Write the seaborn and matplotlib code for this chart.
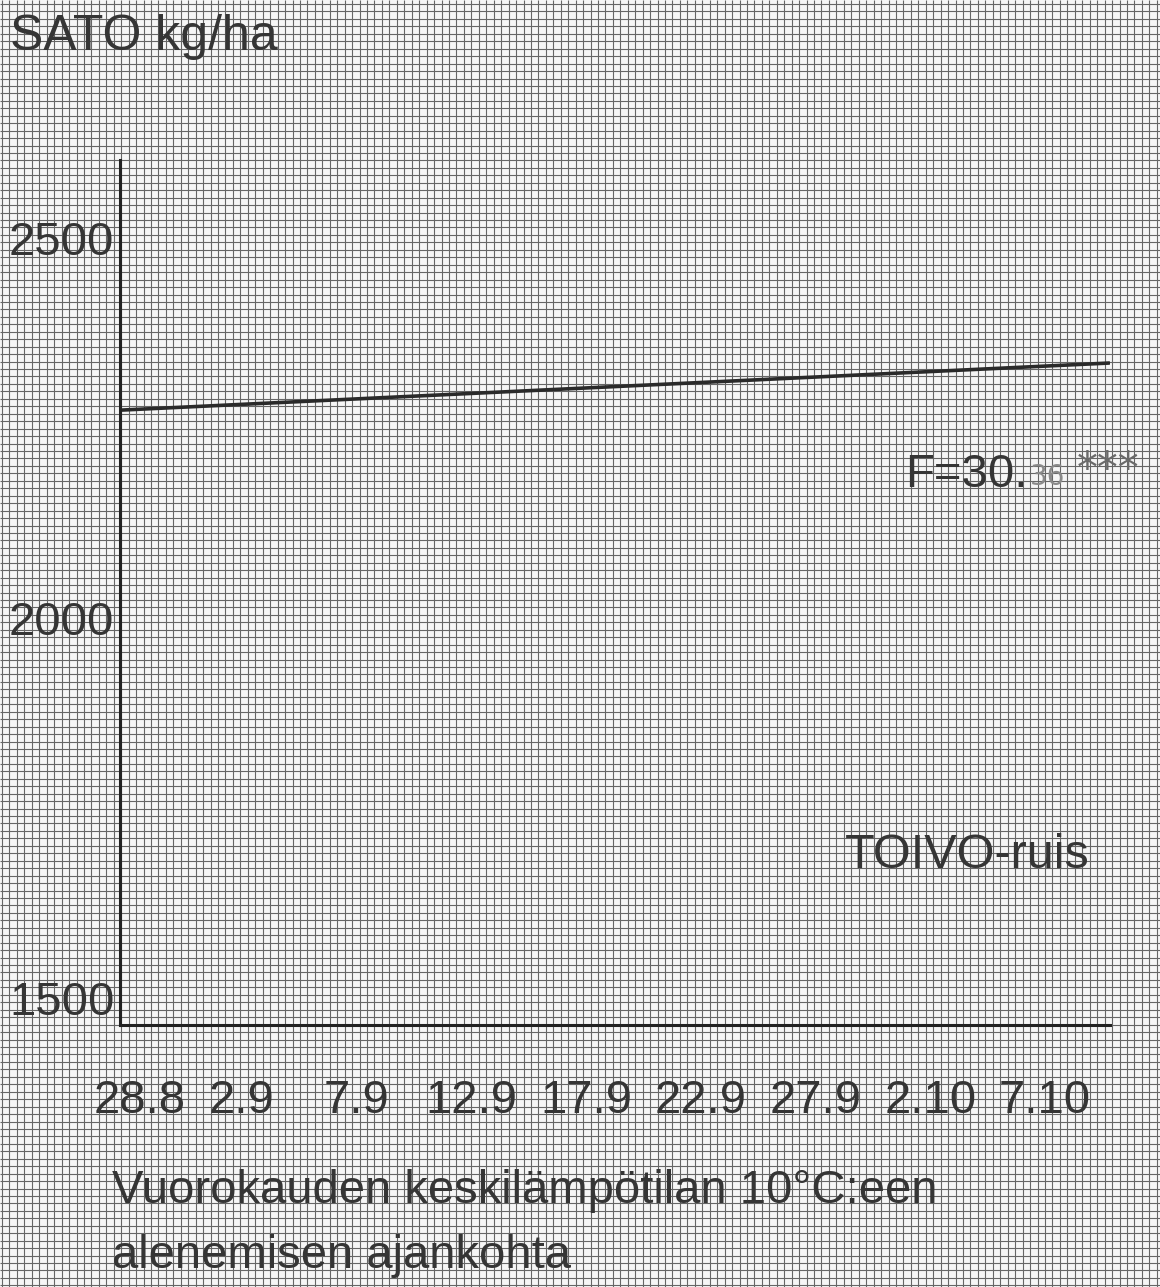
import numpy as np
import matplotlib
matplotlib.use('Agg')
import matplotlib.pyplot as plt
import matplotlib.transforms as mtransforms
import seaborn as sns

# Valeurs (jours depuis le 28.8)
paivat = [0, 43.1]
sato = [2309, 2371]

tick_paivat = [0, 5, 10, 15, 20, 25, 30, 35, 40]
tick_labels = ['28.8', '2.9', '7.9', '12.9', '17.9', '22.9', '27.9', '2.10', '7.10']
y_ticks = [1500, 2000, 2500]

W, H = 1160, 1287
TXT = '#353535'

sns.set_theme(style='white')
plt.rcParams['font.family'] = ['Liberation Sans', 'DejaVu Sans']

fig = plt.figure(figsize=(W / 100, H / 100), dpi=100)
fig.patch.set_facecolor('#f6f6f6')

# Fond : papier millimétré
bg = fig.add_axes([0, 0, 1, 1], zorder=0)
bg.set_xlim(0, W)
bg.set_ylim(H, 0)
bg.vlines(np.arange(2, W, 7.45), 0, H, color='#666666', lw=0.8)
bg.hlines(np.arange(4, H, 7.45), 0, W, color='#666666', lw=0.8)
bg.axis('off')

# Axe principal
x0, x1, y_top, y_axis = 120, 1110, 160, 1025
ax = fig.add_axes([x0 / W, (H - y_axis) / H, (x1 - x0) / W, (y_axis - y_top) / H], zorder=1)
ax.patch.set_alpha(0)

px_per_day = 114.75 / 5
px_per_kg = 380 / 500
ax.set_xlim(0, (x1 - x0) / px_per_day)
ax.set_ylim(1500, 1500 + (y_axis - y_top) / px_per_kg)

sns.lineplot(x=paivat, y=sato, ax=ax, color='#2a2a2a', lw=2.6)

for s in ['top', 'right']:
    ax.spines[s].set_visible(False)
for s in ['left', 'bottom']:
    ax.spines[s].set_color('#222222')
    ax.spines[s].set_linewidth(2.2)

ax.set_xticks(tick_paivat, tick_labels)
ax.set_yticks(y_ticks, [str(v) for v in y_ticks])
ax.tick_params(axis='x', direction='out', length=8, width=2, color='#222222',
               pad=31, labelsize=34, labelcolor=TXT)
ax.tick_params(axis='y', length=0, pad=4, labelsize=34, labelcolor=TXT)
for lab in ax.get_yticklabels():
    lab.set_verticalalignment('bottom')

# léger décalage des étiquettes de l'axe x vers la droite, comme sur l'original
for i, lab in enumerate(ax.get_xticklabels()):
    dx = 20 if i == 0 else 7
    lab.set_transform(lab.get_transform() +
                      mtransforms.ScaledTranslation(dx / 100, 0, fig.dpi_scale_trans))

# Textes
def fy(y):
    return 1 - y / H

fig.text(10 / W, fy(50), 'SATO kg/ha', fontsize=36, color=TXT, va='baseline')
fig.text(112 / W, fy(1203), 'Vuorokauden keskilämpötilan 10°C:een', fontsize=34,
         color=TXT, va='baseline')
fig.text(112 / W, fy(1268), 'alenemisen ajankohta', fontsize=34, color=TXT, va='baseline')

fig.text(905 / W, fy(487), 'F=30.', fontsize=34, color=TXT, va='baseline')
fig.text(1030 / W, fy(485), '36', fontsize=20, color='#8a8a8a', va='baseline',
         family=['DejaVu Sans'])
fig.text(1077 / W, fy(482), '***', fontsize=30, color='#6a6a6a', va='baseline',
         family=['DejaVu Sans'])

fig.text(845 / W, fy(868), 'TOIVO-ruis', fontsize=35, color=TXT, va='baseline')

fig.savefig('out.png', dpi=100, facecolor=fig.get_facecolor())
